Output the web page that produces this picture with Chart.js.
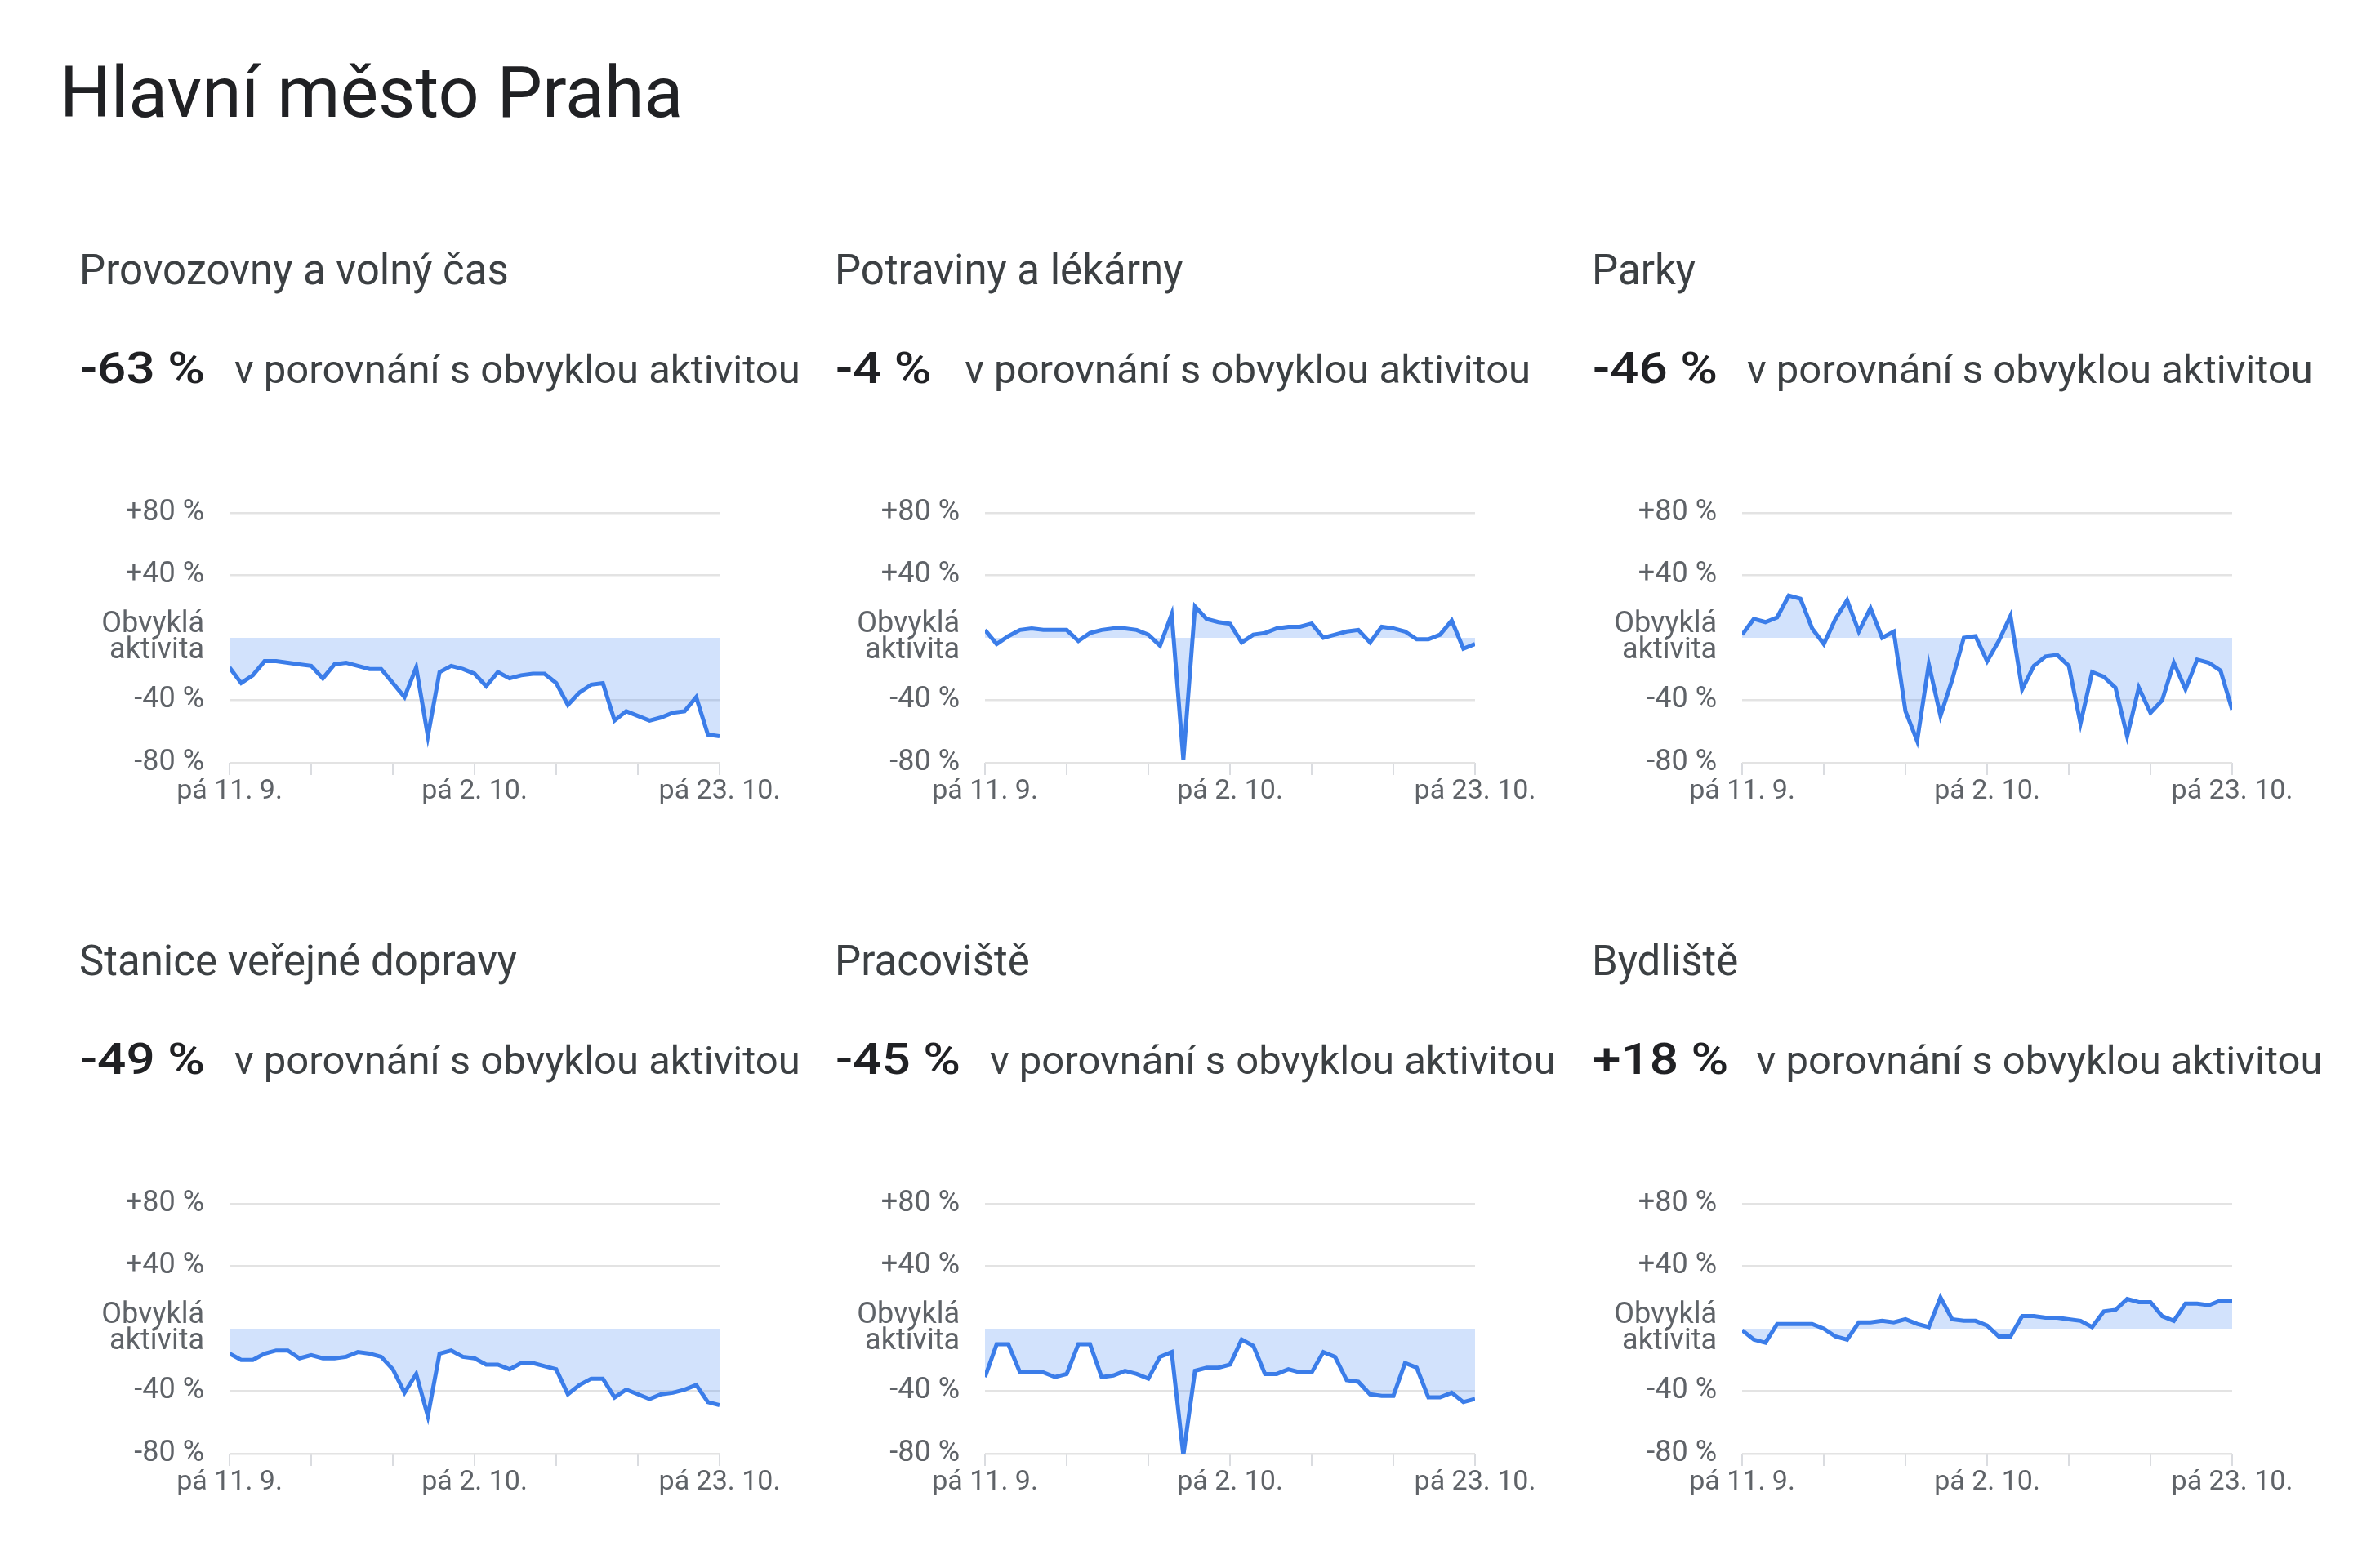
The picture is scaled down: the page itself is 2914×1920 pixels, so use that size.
<!DOCTYPE html>
<html lang="cs">
<head>
<meta charset="utf-8">
<title>Hlavní město Praha</title>
<script src="https://cdn.jsdelivr.net/npm/chart.js@4.4.1/dist/chart.umd.min.js"></script>
<style>
  html, body { margin: 0; padding: 0; background: #fff; }
  body { width: 2914px; height: 1920px; position: relative; overflow: hidden; font-family: Roboto, "Noto Sans", sans-serif; }
  #title { position: absolute; left: 73px; top: 69px; font-size: 88px; line-height: 88px; color: #202124; white-space: nowrap; }
  .cat { position: absolute; font-size: 51px; line-height: 51px; color: #3c4043; white-space: nowrap; }
  .head { position: absolute; display: flex; align-items: baseline; white-space: nowrap; }
  .head .num { display: inline-block; font-size: 54px; line-height: 54px; font-weight: 500; color: #202124;
               transform: scaleX(1.15); transform-origin: left center; margin-right: 56px; }
  .head .txt { font-size: 49px; line-height: 49px; color: #3c4043; }
  canvas { position: absolute; }
</style>
</head>
<body>
<div id="title">Hlavní město Praha</div>

<script>
// categories (panels)
const categories = ['Provozovny a volný čas', 'Potraviny a lékárny', 'Parky',
                    'Stanice veřejné dopravy', 'Pracoviště', 'Bydliště'];
const headlines = ['-63 %', '-4 %', '-46 %', '-49 %', '-45 %', '+18 %'];
const compareText = 'v porovnání s obvyklou aktivitou';

// x axis: 43 days, pá 11. 9. .. pá 23. 10., ticks weekly
const weekLabels = ['pá 11. 9.', '', '', 'pá 2. 10.', '', '', 'pá 23. 10.'];
// y axis ticks
const yTickValues = [80, 40, 0, -40, -80];
const yTickLabels = ['+80 %', '+40 %', ['Obvyklá', 'aktivita'], '-40 %', '-80 %'];

// series values (% change vs baseline), one per day
const leisure = [-19, -29, -24, -15, -15, -16, -17, -18, -26, -17, -16, -18, -20, -20, -29, -38,
  -19, -63, -22, -18, -20, -23, -31, -22, -26, -24, -23, -23, -29, -43, -35, -30, -29, -53,
  -47, -50, -53, -51, -48, -47, -38, -62, -63];
const grocery = [5, -4, 1, 5, 6, 5, 5, 5, -2, 3, 5, 6, 6, 5, 2, -5,
  15, -78, 20, 12, 10, 9, -3, 2, 3, 6, 7, 7, 9, 0, 2, 4, 5, -3,
  7, 6, 4, -1, -1, 2, 11, -7, -4];
const parks = [2, 12, 10, 13, 27, 25, 6, -4, 12, 24, 4, 19, 0, 4, -47, -66,
  -17, -50, -27, 0, 1, -15, -2, 14, -33, -18, -12, -11, -18, -55, -22, -25, -32, -63,
  -32, -48, -40, -16, -33, -14, -16, -21, -46];
const transit = [-16, -20, -20, -16, -14, -14, -19, -17, -19, -19, -18, -15, -16, -18, -26, -41,
  -29, -56, -16, -14, -18, -19, -23, -23, -26, -22, -22, -24, -26, -42, -36, -32, -32, -44,
  -39, -42, -45, -42, -41, -39, -36, -47, -49];
const workplaces = [-31, -10, -10, -28, -28, -28, -31, -29, -10, -10, -31, -30, -27, -29, -32, -18,
  -15, -81, -27, -25, -25, -23, -7, -11, -29, -29, -26, -28, -28, -15, -18, -33, -34, -42,
  -43, -43, -22, -25, -44, -44, -41, -47, -45];
const residential = [-1, -7, -9, 3, 3, 3, 3, 0, -5, -7, 4, 4, 5, 4, 6, 3,
  1, 20, 6, 5, 5, 2, -5, -5, 8, 8, 7, 7, 6, 5, 1, 11, 12, 19,
  17, 17, 8, 5, 16, 16, 15, 18, 18];
const seriesList = [leisure, grocery, parks, transit, workplaces, residential];

// layout
const colText = [97, 1022, 1949];
const colPlot = [281, 1206, 2133];
const rowOffset = [0, 846];
const PLOT_W = 600;
const Y_AXIS_W = 200, PAD_TOP = 30, PAD_RIGHT = 100, X_AXIS_H = 60, PAD_BOTTOM = 10;
const CANVAS_TOP = 581, CANVAS_H = 423;

categories.forEach((name, i) => {
  const col = i % 3, row = Math.floor(i / 3);
  const dy = rowOffset[row];

  const cat = document.createElement('div');
  cat.className = 'cat';
  cat.textContent = name;
  cat.style.left = colText[col] + 'px';
  cat.style.top = (305 + dy) + 'px';
  document.body.appendChild(cat);

  const head = document.createElement('div');
  head.className = 'head';
  head.style.left = (colText[col] + 1) + 'px';
  head.style.top = (424 + dy) + 'px';
  head.innerHTML = '<span class="num"></span><span class="txt"></span>';
  head.querySelector('.num').textContent = headlines[i];
  head.querySelector('.txt').textContent = compareText;
  document.body.appendChild(head);

  const canvas = document.createElement('canvas');
  canvas.width = Y_AXIS_W + PLOT_W + PAD_RIGHT;
  canvas.height = CANVAS_H;
  canvas.style.left = (colPlot[col] - Y_AXIS_W) + 'px';
  canvas.style.top = (CANVAS_TOP + dy) + 'px';
  document.body.appendChild(canvas);

  new Chart(canvas, {
    type: 'line',
    data: {
      datasets: [{
        data: seriesList[i].map((v, d) => ({ x: d, y: v })),
        borderColor: '#3b7de9',
        borderWidth: 5,
        backgroundColor: 'rgba(66,133,244,0.24)',
        fill: 'origin',
        pointRadius: 0,
        tension: 0
      }]
    },
    options: {
      responsive: false,
      animation: false,
      layout: { padding: { left: 0, right: PAD_RIGHT, top: PAD_TOP, bottom: PAD_BOTTOM } },
      plugins: { legend: { display: false }, tooltip: { enabled: false } },
      scales: {
        x: {
          type: 'linear',
          min: 0,
          max: 42,
          afterFit: s => { s.height = X_AXIS_H; },
          border: { display: false },
          grid: { drawOnChartArea: false, drawTicks: true, tickLength: 15, color: '#dadce0', lineWidth: 2 },
          ticks: {
            stepSize: 7,
            autoSkip: false,
            maxRotation: 0,
            padding: 0,
            color: '#5f6368',
            font: { family: 'Roboto', size: 34 },
            callback: v => weekLabels[v / 7] || ''
          }
        },
        y: {
          min: -80,
          max: 80,
          afterFit: s => { s.width = Y_AXIS_W; },
          border: { display: false },
          grid: {
            drawTicks: false,
            lineWidth: 2.5,
            color: c => (c.tick && c.tick.value === 0) ? 'rgba(0,0,0,0)' : '#e3e3e3'
          },
          ticks: {
            stepSize: 40,
            padding: 31,
            color: '#5f6368',
            font: { family: 'Roboto', size: 36, lineHeight: 0.88 },
            callback: v => {
              const k = yTickValues.indexOf(v);
              return k >= 0 ? yTickLabels[k] : '';
            }
          }
        }
      }
    }
  });
});
</script>
</body>
</html>
